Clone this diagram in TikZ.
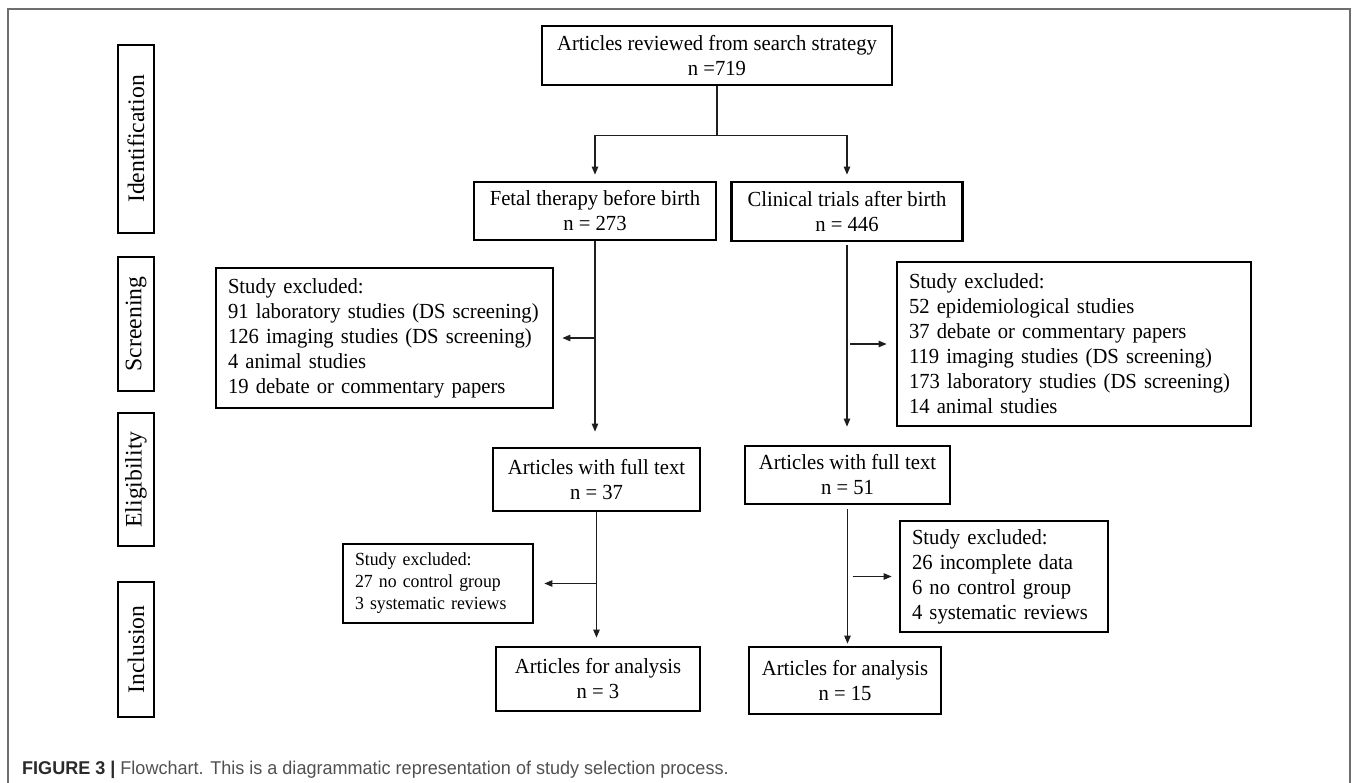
\documentclass[tikz,border=0pt]{standalone}
\usepackage{fontspec}
\setmainfont{Liberation Serif}[FakeStretch=0.96]
\newfontfamily\stagefont{Liberation Serif}
\newfontfamily\capfont{Liberation Sans}[FakeStretch=0.975]
\usetikzlibrary{arrows.meta,calc}
\definecolor{framegray}{HTML}{6E6E6E}
\definecolor{capgray}{HTML}{505050}
\definecolor{capdark}{HTML}{2A2A2A}
\definecolor{linegray}{HTML}{1E1E1E}
\newcommand{\mainsz}{\fontsize{21.5}{25}\selectfont}
\newcommand{\smallsz}{\fontsize{18.5}{22}\selectfont}
\newcommand{\stagesz}{\stagefont\fontsize{23.7}{26}\selectfont}
\begin{document}
\begin{tikzpicture}[x=1pt,y=-1pt,
  mainbox/.style={draw, line width=2.8pt, align=center, font=\mainsz, inner sep=0pt},
  exbox/.style={draw, line width=2.8pt, align=left, font=\mainsz, inner xsep=12pt, inner ysep=0pt},
  stage/.style={draw, line width=2.6pt, rotate=90, minimum height=36pt, inner sep=0pt, font=\stagesz},
  conn/.style={draw=linegray, line width=1.1pt},
  arr/.style={conn, -{Triangle[length=8pt,width=6.5pt]}}
]
\useasboundingbox (0,0) rectangle (1363,783);
% outer frame
\draw[framegray, line width=1.4pt] (8,783) -- (8,9) -- (1350,9) -- (1350,783);

% stage labels
\node[stage, minimum width=188pt] (s1) at (136,139) {Identification};
\node[stage, minimum width=134pt] (s2) at (136,324) {Screening};
\node[stage, minimum width=133pt] (s3) at (136,479.5) {Eligibility};
\node[stage, minimum width=135pt] (s4) at (136,649.5) {Inclusion};

% boxes
\node[mainbox, minimum width=350pt, minimum height=59pt] (top) at (717,55.5) {Articles reviewed from search strategy\\ n =719};
\node[mainbox, minimum width=242pt, minimum height=58pt] (fetal) at (595,211) {Fetal therapy before birth\\ n = 273};
\node[mainbox, minimum width=231pt, minimum height=59pt] (clin) at (847,211.5) {Clinical trials after birth\\ n = 446};
\node[exbox, text width=313pt, minimum height=140pt] (exA) at (384.5,338) {Study excluded:\\91 laboratory studies (DS screening)\\126 imaging studies (DS screening)\\4 animal studies\\19 debate or commentary papers};
\node[exbox, text width=330pt, minimum height=164pt] (exB) at (1074,344) {Study excluded:\\52 epidemiological studies\\37 debate or commentary papers\\119 imaging studies (DS screening)\\173 laboratory studies (DS screening)\\14 animal studies};
\node[mainbox, minimum width=207pt, minimum height=63pt] (fullA) at (596.5,479.5) {Articles with full text\\ n = 37};
\node[mainbox, minimum width=205pt, minimum height=58pt] (fullB) at (847.5,475) {Articles with full text\\ n = 51};
\node[exbox, font=\smallsz, text width=166pt, minimum height=79pt] (exC) at (438,583.5) {Study excluded:\\27 no control group\\3 systematic reviews};
\node[exbox, text width=184pt, minimum height=111pt] (exD) at (1004,576.5) {Study excluded:\\26 incomplete data\\6 no control group\\4 systematic reviews};
\node[mainbox, minimum width=204pt, minimum height=64pt] (anaA) at (598,679) {Articles for analysis\\ n = 3};
\node[mainbox, minimum width=192pt, minimum height=67pt] (anaB) at (845,680.5) {Articles for analysis\\ n = 15};

% connectors
\coordinate (split) at ($(top.south)+(0,49)$);
\draw[conn] (top.south) -- (split);
\draw[arr, shorten >=6pt] (split) -| (fetal.north);
\draw[arr, shorten >=6pt] (split) -| (clin.north);
\draw[arr, shorten >=15pt] (fetal.south) -- (fetal.south |- fullA.north);
\draw[arr, shorten >=8pt] (fetal.south |- exA.east) -- (exA.east);
\draw[arr, shorten <=3pt, shorten >=18pt] (clin.south) -- (clin.south |- fullB.north);
\draw[arr, shorten <=3pt, shorten >=9pt] (clin.south |- exB.west) -- (exB.west);
\draw[arr, shorten >=8pt] (fullA.south) -- (fullA.south |- anaA.north);
\draw[arr, shorten >=10pt] (fullA.south |- exC.east) -- (exC.east);
\draw[arr, shorten <=4pt, shorten >=2pt] (fullB.south) -- (fullB.south |- anaB.north);
\draw[arr, shorten <=5pt, shorten >=7pt] (fullB.south |- exD.west) -- (exD.west);

% caption
\node[anchor=base west, inner sep=0pt, font=\capfont\fontsize{18.5}{20}\selectfont] (cap) at (22,774)
  {\textcolor{capdark}{\textbf{FIGURE 3 |}} \textcolor{capgray}{Flowchart. This is a diagrammatic representation of study selection process.}};
\end{tikzpicture}
\end{document}
